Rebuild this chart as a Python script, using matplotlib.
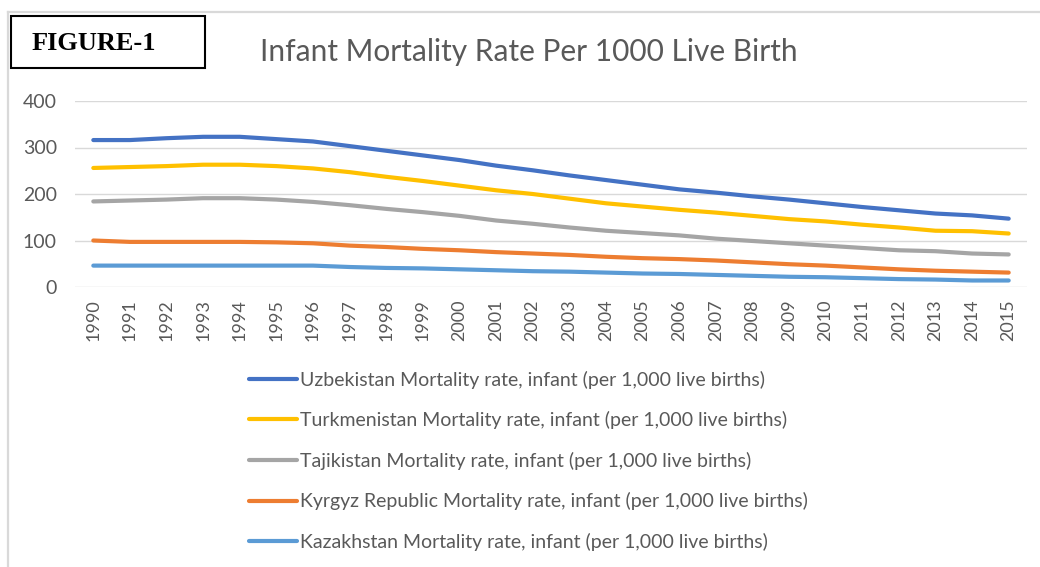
import matplotlib.pyplot as plt
from matplotlib.patches import Rectangle
from matplotlib.lines import Line2D

# Dados
years = list(range(1990, 2016))
uzbekistan = [316, 316, 320, 323, 323, 318, 313, 303, 293, 283, 273, 261, 251,
              240, 230, 220, 210, 203, 195, 188, 180, 172, 165, 158, 154, 147]
turkmenistan = [256, 258, 260, 263, 263, 260, 255, 247, 237, 228, 218, 208, 200,
                190, 180, 173, 166, 160, 153, 146, 141, 134, 128, 121, 120, 115]
tajikistan = [184, 186, 188, 191, 191, 188, 183, 176, 168, 161, 153, 143, 136,
              128, 121, 116, 111, 104, 99, 94, 89, 84, 79, 77, 72, 70]
kyrgyz = [100, 97, 97, 97, 97, 96, 94, 89, 86, 82, 79, 75, 72,
          69, 65, 62, 60, 57, 53, 49, 46, 42, 38, 35, 33, 31]
kazakhstan = [46, 46, 46, 46, 46, 46, 46, 43, 41, 40, 38, 36, 34,
              33, 31, 29, 28, 26, 24, 22, 21, 19, 17, 16, 14, 14]

series = [
    ('Uzbekistan Mortality rate, infant (per 1,000 live births)', uzbekistan, '#4472C4'),
    ('Turkmenistan Mortality rate, infant (per 1,000 live births)', turkmenistan, '#FFC000'),
    ('Tajikistan Mortality rate, infant (per 1,000 live births)', tajikistan, '#A5A5A5'),
    ('Kyrgyz Republic Mortality rate, infant (per 1,000 live births)', kyrgyz, '#ED7D31'),
    ('Kazakhstan Mortality rate, infant (per 1,000 live births)', kazakhstan, '#5B9BD5'),
]

plt.rcParams['font.family'] = ['Lato', 'DejaVu Sans']
W, H = 1040, 567
fig = plt.figure(figsize=(W / 100, H / 100), dpi=100)

# Moldura cinza do gráfico
fig.add_artist(Line2D([8 / W, 8 / W], [0, 1 - 12 / H], color='#d9d9d9', lw=1.6))
fig.add_artist(Line2D([8 / W, 1], [1 - 12 / H, 1 - 12 / H], color='#d9d9d9', lw=1.6))

ax = fig.add_axes([75 / W, 1 - 287 / H, (1027 - 75) / W, (287 - 101) / H])
x = list(range(len(years)))
handles = []
for label, vals, color in series:
    h, = ax.plot(x, vals, color=color, lw=3, solid_capstyle='round',
                 solid_joinstyle='round', label=label)
    handles.append(h)

ax.set_xlim(-0.5, len(years) - 0.5)
ax.set_ylim(0, 400)
ax.set_yticks([0, 100, 200, 300, 400])
ax.set_xticks(x)
ax.set_xticklabels([str(y) for y in years], rotation=90)
ax.tick_params(axis='y', length=0, labelsize=14, labelcolor='#595959', pad=13)
ax.tick_params(axis='x', length=0, labelsize=13, labelcolor='#595959', pad=9)
ax.grid(axis='y', color='#d9d9d9', lw=1)
ax.set_axisbelow(True)
for s in ax.spines.values():
    s.set_visible(False)

fig.text(529 / W, 1 - 52 / H, 'Infant Mortality Rate Per 1000 Live Birth',
         ha='center', va='center', fontsize=21.5, color='#595959')

# Caixa "FIGURE-1"
fig.add_artist(Rectangle((11 / W, 1 - 68 / H), 194 / W, 52 / H, fill=False,
                         edgecolor='black', lw=1.5, transform=fig.transFigure))
fig.text(32 / W, 1 - 44 / H, 'FIGURE-1', ha='left', va='center', fontsize=19,
         fontweight='bold', family=['Liberation Serif', 'DejaVu Serif'])

fig.legend(handles=handles, loc='upper left', bbox_to_anchor=(231 / W, 1 - 353 / H),
           frameon=False, fontsize=14, labelcolor='#595959', handlelength=2.5,
           handletextpad=0.15, labelspacing=1.16)

plt.savefig('out.png', dpi=100)
